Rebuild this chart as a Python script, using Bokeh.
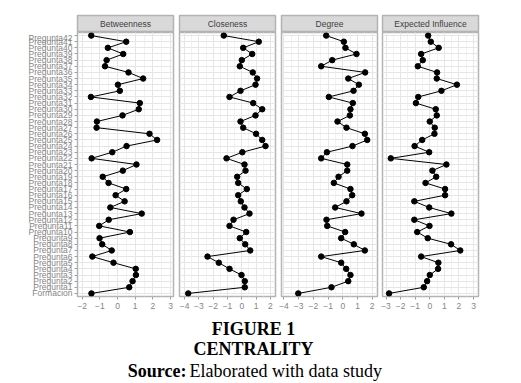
from bokeh.plotting import figure
from bokeh.layouts import column, row
from bokeh.models import Range1d, FactorRange, SingleIntervalTicker, Label, ColumnDataSource
from bokeh.embed import file_html
from bokeh.resources import INLINE

# Items listed top to bottom as in the chart
items = ["Pregunta42", "Pregunta41", "Pregunta40", "Pregunta39", "Pregunta38", "Pregunta37",
         "Pregunta36", "Pregunta35", "Pregunta34", "Pregunta33", "Pregunta32", "Pregunta31",
         "Pregunta30", "Pregunta29", "Pregunta28", "Pregunta27", "Pregunta26", "Pregunta25",
         "Pregunta24", "Pregunta23", "Pregunta22", "Pregunta21", "Pregunta20", "Pregunta19",
         "Pregunta18", "Pregunta17", "Pregunta16", "Pregunta15", "Pregunta14", "Pregunta13",
         "Pregunta12", "Pregunta11", "Pregunta10", "Pregunta9", "Pregunta8", "Pregunta7",
         "Pregunta6", "Pregunta5", "Pregunta4", "Pregunta3", "Pregunta2", "Pregunta1", "Formacion"]

betweenness = [-1.49, 0.49, -0.55, 0.32, -0.62, -0.71, 0.62, 1.45, 0.02, 0.13, -1.51, 1.26, 1.20,
               0.28, -1.17, -1.19, 1.81, 2.24, 0.51, -0.30, -1.47, 1.07, 0.30, -0.84, -0.51, 0.49,
               -0.11, 0.40, -0.41, 1.37, -0.50, -1.04, 0.70, -1.02, -0.87, -0.33, -1.43, -0.23,
               1.03, 1.04, 0.85, 0.66, -1.48]
closeness = [-1.26, 1.19, 0.10, 0.73, 0.00, -0.14, 0.77, 1.07, 0.96, -0.09, -0.86, 0.80, 1.43,
             0.96, -0.09, 0.10, 1.00, 1.43, 1.66, 0.04, -1.07, 0.19, 0.26, -0.32, -0.25, 0.35,
             -0.25, -0.07, 0.19, 0.54, -0.58, -0.86, 0.31, -0.14, 0.24, 0.59, -2.40, -1.61,
             -0.86, -0.02, 0.21, 0.21, -3.75]
degree = [-1.13, 0.07, 0.18, 0.93, -0.72, -1.47, 1.52, 0.37, 1.09, 0.73, -0.95, 0.68, 0.52, 0.48,
          -0.36, 0.25, 1.50, 1.66, 0.66, -1.08, -1.47, 0.30, 0.30, -0.29, -0.61, 0.52, 0.64, 0.25,
          -0.52, 1.27, -1.11, -1.06, 0.16, -0.11, 0.75, 1.50, -1.47, -0.11, 0.23, 0.52, 0.37,
          -0.77, -3.03]
expected_influence = [-0.11, 0.07, 0.61, -0.59, -0.48, -0.82, 0.50, 0.48, 1.86, 0.80, -0.79,
                      -0.95, 0.41, 0.48, 0.00, 0.34, 0.32, -0.52, -1.04, -0.04, -2.67, 1.14, 0.18,
                      0.44, -0.29, 1.05, 1.05, -1.06, -0.04, 1.48, -1.06, -0.02, -0.86, -0.14,
                      1.46, 2.09, -0.59, 0.59, 0.57, 0.00, -0.18, -0.41, -2.79]

panel_titles = ["Betweenness", "Closeness", "Degree", "Expected Influence"]
panel_values = [betweenness, closeness, degree, expected_influence]
x_limits = [(-2.27, 3.17), (-4.36, 2.36), (-4.17, 2.36), (-3.24, 3.34)]

# layout (pixels): left border, right border of each panel figure
borders = [(77, 3), (3, 3), (3, 2), (3, 30)]
FRAME_W = 96
FRAME_H = 264
GRID = "#e6e6e6"
MINOR = "#f2f2f2"
BORDER = "#b3b3b3"
TXT = "#858585"
FONT = "Liberation Sans"

factors = list(reversed(items))  # bottom to top

strips = []
panels = []
for i, (title, vals, lim, (bl, br)) in enumerate(zip(panel_titles, panel_values, x_limits, borders)):
    w = bl + FRAME_W + br
    s = figure(width=w, height=32, x_range=Range1d(0, 1), y_range=Range1d(0, 1),
               x_axis_location=None, y_axis_location=None, output_backend="svg",
               toolbar_location=None, min_border_left=bl, min_border_right=br,
               min_border_top=15, min_border_bottom=0)
    s.grid.visible = False
    s.background_fill_color = "#d9d9d9"
    s.outline_line_color = BORDER
    s.outline_line_width = 1.5
    s.add_layout(Label(x=0.5, y=0.5, text=title, text_align="center", text_baseline="middle",
                       text_font=FONT, text_font_size="8.5px", text_color="#404040"))
    strips.append(s)

    src = ColumnDataSource(dict(item=items, v=vals))
    p = figure(width=w, height=FRAME_H + 20, x_range=Range1d(*lim),
               y_range=FactorRange(factors=factors, range_padding=0),
               output_backend="svg", toolbar_location=None,
               min_border_left=bl, min_border_right=br, min_border_top=0, min_border_bottom=20)
    p.line(x="v", y="item", source=src, line_color="black", line_width=1)
    p.scatter(x="v", y="item", source=src, size=5.5, fill_color="black", line_color="black")
    p.xaxis.ticker = SingleIntervalTicker(interval=1, num_minor_ticks=2)
    p.xgrid.grid_line_color = GRID
    p.xgrid.minor_grid_line_color = MINOR
    p.ygrid.grid_line_color = GRID
    p.outline_line_color = BORDER
    p.outline_line_width = 1.5
    p.xaxis.axis_line_color = None
    p.xaxis.major_tick_line_color = "#a0a0a0"
    p.xaxis.major_tick_out = 3
    p.xaxis.major_tick_in = 0
    p.xaxis.minor_tick_line_color = None
    p.xaxis.major_label_standoff = 2
    p.xaxis.major_label_text_font = FONT
    p.xaxis.major_label_text_font_size = "8.5px"
    p.xaxis.major_label_text_color = TXT
    if i == 0:
        p.yaxis.axis_line_color = None
        p.yaxis.major_tick_line_color = "#a0a0a0"
        p.yaxis.major_tick_out = 3
        p.yaxis.major_tick_in = 0
        p.yaxis.major_label_standoff = 2
        p.yaxis.major_label_text_font = FONT
        p.yaxis.major_label_text_font_size = "8.5px"
        p.yaxis.major_label_text_color = TXT
    else:
        p.yaxis.visible = False
    panels.append(p)

CAP_H = 66
CAP_W = 508
cap = figure(width=CAP_W, height=CAP_H, x_range=Range1d(0, CAP_W), y_range=Range1d(CAP_H, 0),
             x_axis_location=None, y_axis_location=None, output_backend="svg",
             toolbar_location=None, min_border=0, min_border_left=0, min_border_right=0,
             min_border_top=0, min_border_bottom=0)
cap.grid.visible = False
cap.outline_line_color = None
SERIF = "Liberation Serif"
cap.add_layout(Label(x=253, y=12, text="FIGURE 1", text_align="center", text_baseline="middle",
                     text_font=SERIF, text_font_style="bold", text_font_size="18px",
                     text_color="black"))
cap.add_layout(Label(x=253, y=32, text="CENTRALITY", text_align="center", text_baseline="middle",
                     text_font=SERIF, text_font_style="bold", text_font_size="18px",
                     text_color="black"))
cap.add_layout(Label(x=186, y=54, text="Source:", text_align="right", text_baseline="middle",
                     text_font=SERIF, text_font_style="bold", text_font_size="18px",
                     text_color="black"))
cap.add_layout(Label(x=189, y=54, text="Elaborated with data study", text_align="left",
                     text_baseline="middle", text_font=SERIF, text_font_size="18px",
                     text_color="black"))

layout = column(row(*strips), row(*panels), cap)
open("out.html", "w").write(file_html(layout, INLINE))
